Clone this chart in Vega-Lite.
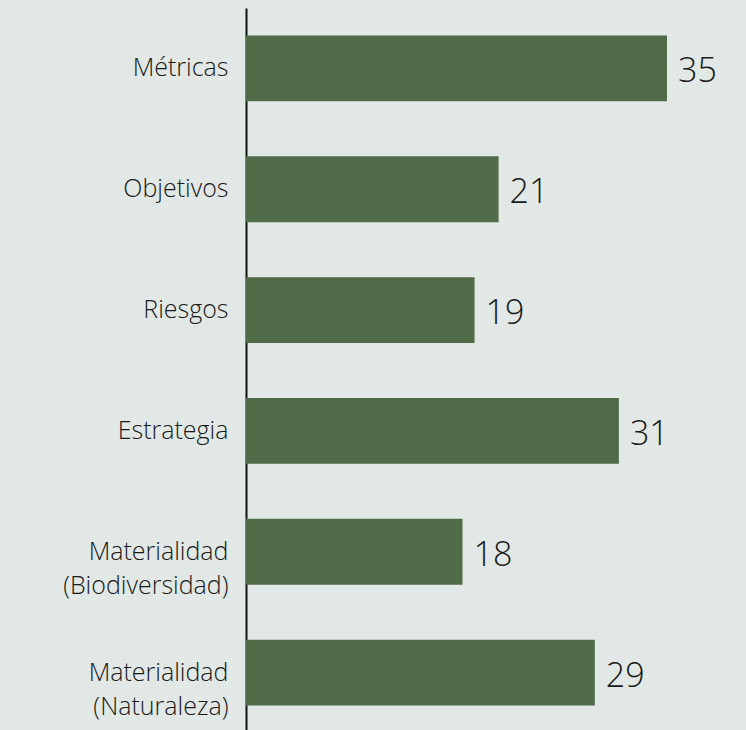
{
  "$schema": "https://vega.github.io/schema/vega-lite/v6.json",
  "autosize": {"type": "none"},
  "padding": {"left": 246, "top": 8, "right": 79, "bottom": 0},
  "width": 421,
  "height": 725,
  "background": "#e1e8e5",
  "config": {"view": {"stroke": null}, "font": "Open Sans"},
  "data": {"values": [
    {"cat": "Métricas", "value": 35},
    {"cat": "Objetivos", "value": 21},
    {"cat": "Riesgos", "value": 19},
    {"cat": "Estrategia", "value": 31},
    {"cat": "Materialidad|(Biodiversidad)", "value": 18},
    {"cat": "Materialidad |(Naturaleza)", "value": 29}
  ]},
  "encoding": {
    "y": {
      "field": "cat", "type": "nominal", "sort": null,
      "scale": {"paddingInner": 0.455, "paddingOuter": 0.2275},
      "axis": {
        "title": null, "ticks": false, "domainColor": "#111111", "domainWidth": 2,
        "labelExpr": "split(datum.label, '|')",
        "labelFont": "Open Sans", "labelFontSize": 25, "labelFontWeight": 300, "labelColor": "#1a1a1a",
        "labelPadding": 18, "labelLineHeight": 34, "labelLimit": 300
      }
    },
    "x": {"field": "value", "type": "quantitative", "scale": {"domain": [0, 35], "nice": false}, "axis": null}
  },
  "layer": [
    {"mark": {"type": "bar", "color": "#4f6b48"}},
    {"mark": {"type": "text", "align": "left", "baseline": "middle", "dx": 11, "dy": 4, "fontSize": 34, "fontWeight": 300, "font": "Open Sans", "color": "#1a1a1a"},
     "encoding": {"text": {"field": "value", "type": "quantitative"}}}
  ]
}
